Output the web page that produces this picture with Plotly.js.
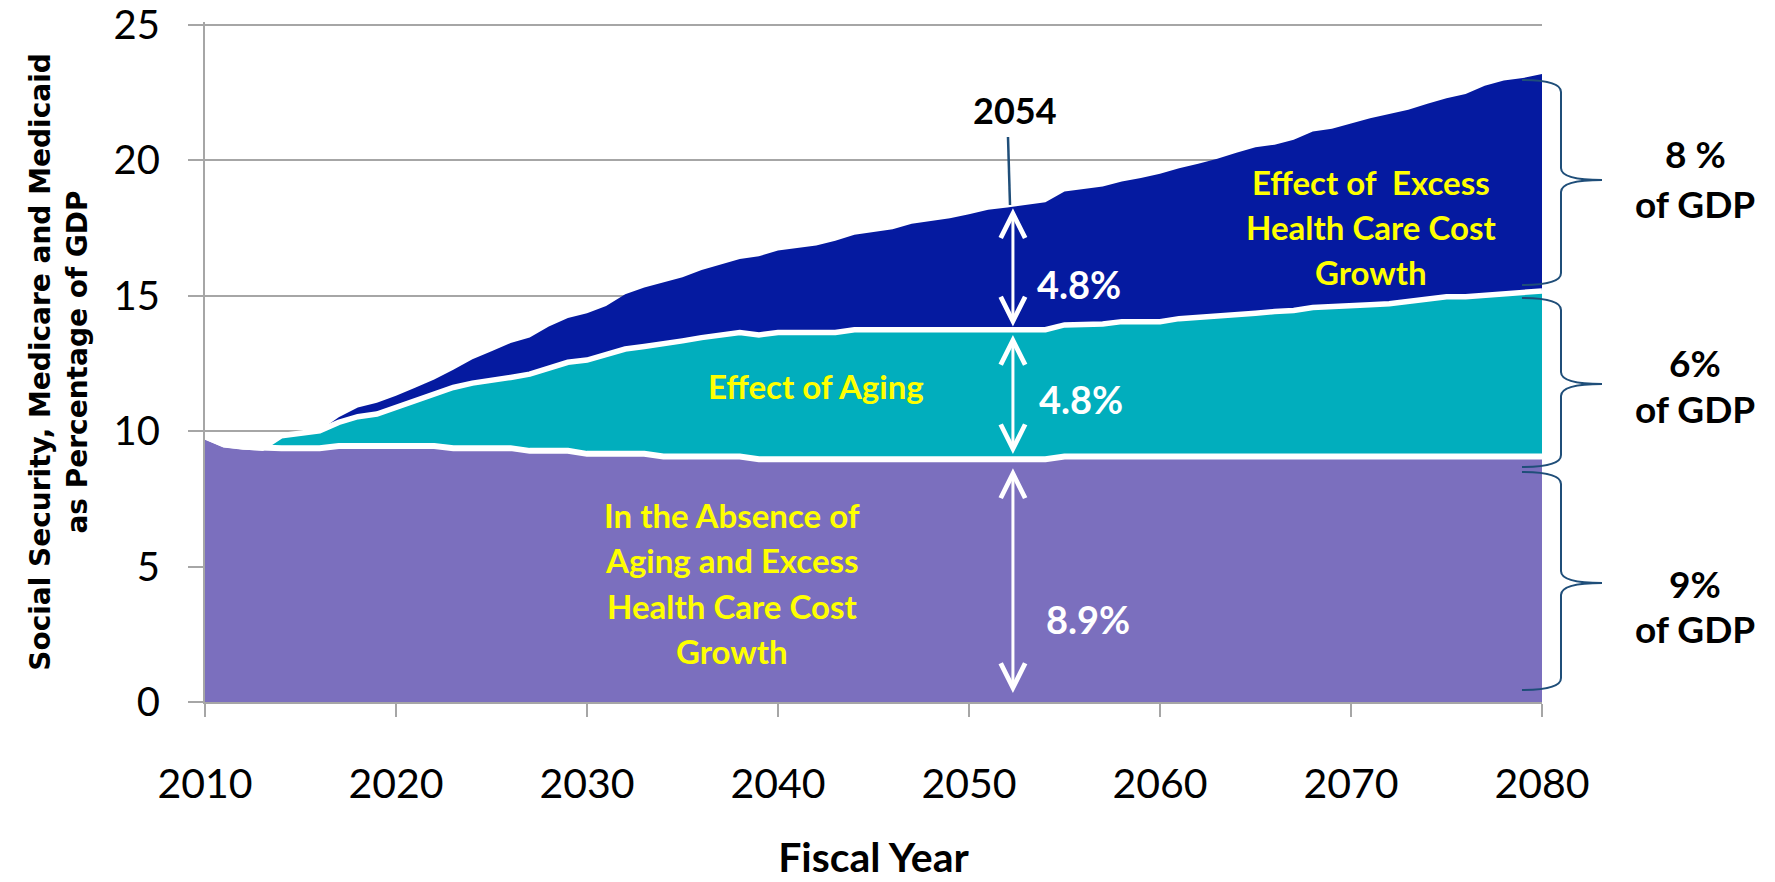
<!DOCTYPE html>
<html>
<head>
<meta charset="utf-8">
<script src="https://cdn.plot.ly/plotly-3.0.1.min.js"></script>
<style>
html,body{margin:0;padding:0;background:#ffffff;}
#chart{width:1775px;height:882px;}
</style>
</head>
<body>
<div id="chart"></div>
<script>
// ---------------- DATA ----------------
const years = [2010,2011,2012,2013,2014,2015,2016,2017,2018,2019,
               2020,2021,2022,2023,2024,2025,2026,2027,2028,2029,
               2030,2031,2032,2033,2034,2035,2036,2037,2038,2039,
               2040,2041,2042,2043,2044,2045,2046,2047,2048,2049,
               2050,2051,2052,2053,2054,2055,2056,2057,2058,2059,
               2060,2061,2062,2063,2064,2065,2066,2067,2068,2069,
               2070,2071,2072,2073,2074,2075,2076,2077,2078,2079,2080];

// Spending in the absence of aging and excess health care cost growth (% of GDP)
const baseline = [9.80,9.50,9.42,9.37,9.37,9.37,9.37,9.45,9.45,9.45,
                  9.45,9.45,9.45,9.37,9.37,9.37,9.37,9.27,9.27,9.27,
                  9.16,9.16,9.16,9.16,9.06,9.06,9.06,9.06,9.06,8.96,
                  8.96,8.96,8.96,8.96,8.96,8.96,8.96,8.96,8.96,8.96,
                  8.96,8.96,8.96,8.96,8.96,9.06,9.06,9.06,9.06,9.06,
                  9.06,9.06,9.06,9.06,9.06,9.06,9.06,9.06,9.06,9.06,
                  9.06,9.06,9.06,9.06,9.06,9.06,9.06,9.06,9.06,9.06,9.06];

// Baseline plus the effect of aging (% of GDP)
const withAging = [9.80,9.50,9.42,9.37,9.83,9.92,10.01,10.32,10.53,10.63,
                   10.88,11.12,11.37,11.61,11.77,11.90,11.98,12.10,12.33,12.54,
                   12.62,12.82,13.03,13.12,13.21,13.33,13.45,13.55,13.64,13.55,
                   13.64,13.64,13.64,13.64,13.74,13.74,13.74,13.74,13.74,13.74,
                   13.74,13.74,13.74,13.74,13.74,13.92,13.92,13.95,14.04,14.04,
                   14.04,14.15,14.19,14.22,14.30,14.35,14.41,14.45,14.56,14.58,
                   14.62,14.66,14.70,14.80,14.88,14.96,14.96,15.02,15.09,15.13,15.17];

// Total: plus the effect of excess health care cost growth (% of GDP)
const total = [9.80,9.50,9.42,9.37,9.83,9.92,10.01,10.51,10.87,11.05,
               11.30,11.60,11.90,12.26,12.65,12.95,13.25,13.45,13.86,14.17,
               14.35,14.62,15.05,15.30,15.50,15.68,15.95,16.14,16.35,16.45,
               16.67,16.76,16.85,17.03,17.25,17.35,17.45,17.65,17.75,17.86,
               18.00,18.17,18.25,18.35,18.45,18.84,18.93,19.03,19.21,19.34,
               19.50,19.70,19.87,20.05,20.27,20.48,20.57,20.75,21.06,21.16,
               21.35,21.55,21.70,21.86,22.08,22.29,22.44,22.75,22.94,23.03,23.18];

const xTickVals = [2010,2020,2030,2040,2050,2060,2070,2080];
const yTickVals = [0,5,10,15,20,25];

const arrowYear = 2052.3;
const segments = [            // [from, to] of the white double arrows
  [18.28, 13.86],
  [13.60, 9.15],
  [8.68, 0.33]
];
const segmentLabels = ['4.8%','4.8%','8.9%'];
const shareLabels = [['8 %','of GDP'],['6%','of GDP'],['9%','of GDP']];
const labelAbsence = ['In the Absence of','Aging and Excess','Health Care Cost','Growth'];
const labelExcess = ['Effect of  Excess','Health Care Cost','Growth'];
const labelAging = 'Effect of Aging';
const yearMark = '2054';

// ---------------- STYLE ----------------
const cPurple = '#7B6FBE';
const cTeal = '#01AEBD';
const cNavy = '#051AA0';
const cGrid = '#A6A6A6';
const cBrace = '#1F4E79';
const cYellow = '#FFFF00';

const L = 205, T = 22, W = 1337, H = 680;
const px = v => (v - L) / W;
const py = v => (T + H - v) / H;

const traces = [
  {x: years, y: baseline, type: 'scatter', mode: 'lines', fill: 'tozeroy',
   fillcolor: cPurple, line: {color: '#ffffff', width: 6}, hoverinfo: 'skip'},
  {x: years, y: withAging, type: 'scatter', mode: 'lines', fill: 'tonexty',
   fillcolor: cTeal, line: {color: '#ffffff', width: 5.5}, hoverinfo: 'skip'},
  {x: years, y: total, type: 'scatter', mode: 'lines', fill: 'tonexty',
   fillcolor: cNavy, line: {color: cNavy, width: 0}, hoverinfo: 'skip'}
];

const ann = [];
function txt(text, x, y, size, color, family) {
  ann.push({xref: 'paper', yref: 'paper', x: px(x), y: py(y), text: text,
            showarrow: false, xanchor: 'center', yanchor: 'middle',
            font: {family: family || 'Lato', size: size, color: color, weight: 700}});
}
// yellow region labels
labelAbsence.forEach((t, i) => txt(t, 732, 515 + i * 45.3, 33, cYellow));
labelExcess.forEach((t, i) => txt(t, 1371, 182 + i * 45, 33, cYellow));
txt(labelAging, 816, 386, 33, cYellow);
// white segment labels
txt(segmentLabels[0], 1079, 284, 38, '#ffffff');
txt(segmentLabels[1], 1081, 399, 38, '#ffffff');
txt(segmentLabels[2], 1088, 619, 38, '#ffffff');
// year mark
txt(yearMark, 1015, 110, 36, '#000000');
// right side labels
const shareY = [[153, 203], [362, 408], [583, 628]];
shareLabels.forEach((pair, i) => {
  txt(pair[0], 1695, shareY[i][0], 37, '#000000');
  txt(pair[1], 1695, shareY[i][1], 37, '#000000');
});
// white double arrows
segments.forEach(s => {
  ann.push({xref: 'x', yref: 'y', axref: 'x', ayref: 'y',
            x: arrowYear, y: s[1], ax: arrowYear, ay: s[0], text: '',
            showarrow: true, arrowside: 'end+start',
            arrowhead: 5, startarrowhead: 5, arrowsize: 1.6, startarrowsize: 1.6,
            arrowwidth: 3, arrowcolor: '#ffffff', standoff: 0, startstandoff: 0});
});

// braces
function brace(yt, ym, yb) {
  const x0 = 1522, xs = 1561, xt = 1602, r = 12;
  const P = (x, y) => px(x).toFixed(5) + ',' + py(y).toFixed(5);
  return 'M' + P(x0, yt) + ' Q' + P(xs, yt) + ' ' + P(xs, yt + r) +
         ' L' + P(xs, ym - r) + ' Q' + P(xs, ym) + ' ' + P(xt, ym) +
         ' Q' + P(xs, ym) + ' ' + P(xs, ym + r) +
         ' L' + P(xs, yb - r) + ' Q' + P(xs, yb) + ' ' + P(x0, yb);
}
const shapes = [
  {type: 'path', xref: 'paper', yref: 'paper', path: brace(80, 180, 285), line: {color: cBrace, width: 2}},
  {type: 'path', xref: 'paper', yref: 'paper', path: brace(298, 384, 467), line: {color: cBrace, width: 2}},
  {type: 'path', xref: 'paper', yref: 'paper', path: brace(472, 583, 690), line: {color: cBrace, width: 2}},
  {type: 'line', xref: 'paper', yref: 'paper', x0: px(1008), y0: py(137), x1: px(1010), y1: py(205),
   line: {color: cBrace, width: 2.5}}
];

const layout = {
  width: 1775, height: 882,
  margin: {l: L, r: 1775 - L - W, t: T, b: 882 - T - H, pad: 0},
  paper_bgcolor: '#ffffff', plot_bgcolor: '#ffffff',
  showlegend: false,
  font: {family: 'Lato, sans-serif', color: '#000000'},
  xaxis: {
    range: [2010, 2080], tickvals: xTickVals, ticktext: xTickVals.map(String),
    showgrid: false, zeroline: false, showline: true, linecolor: cGrid, linewidth: 2,
    ticks: 'outside', ticklen: 13, tickwidth: 2, tickcolor: cGrid,
    tickfont: {family: 'Lato', size: 41, color: '#000000'},
    ticklabelstandoff: 32, automargin: false, ticklabeloverflow: 'allow',
    title: {text: 'Fiscal Year', font: {family: 'Lato', size: 41, weight: 700, color: '#000000'}, standoff: 37}
  },
  yaxis: {
    range: [0, 25.1], tickvals: yTickVals, ticktext: yTickVals.map(String),
    showgrid: true, gridcolor: cGrid, gridwidth: 2, zeroline: false,
    showline: true, linecolor: cGrid, linewidth: 2,
    ticks: 'outside', ticklen: 15, tickwidth: 2, tickcolor: cGrid,
    tickfont: {family: 'Lato', size: 40, color: '#000000'},
    ticklabelstandoff: 20, automargin: false, ticklabeloverflow: 'allow',
    title: {text: 'Social Security, Medicare and Medicaid<br>as Percentage of GDP',
            font: {family: 'DejaVu Sans', size: 28, weight: 700, color: '#000000'}, standoff: 18}
  },
  annotations: ann,
  shapes: shapes
};

Plotly.newPlot('chart', traces, layout, {displayModeBar: false, staticPlot: true});
</script>
</body>
</html>
